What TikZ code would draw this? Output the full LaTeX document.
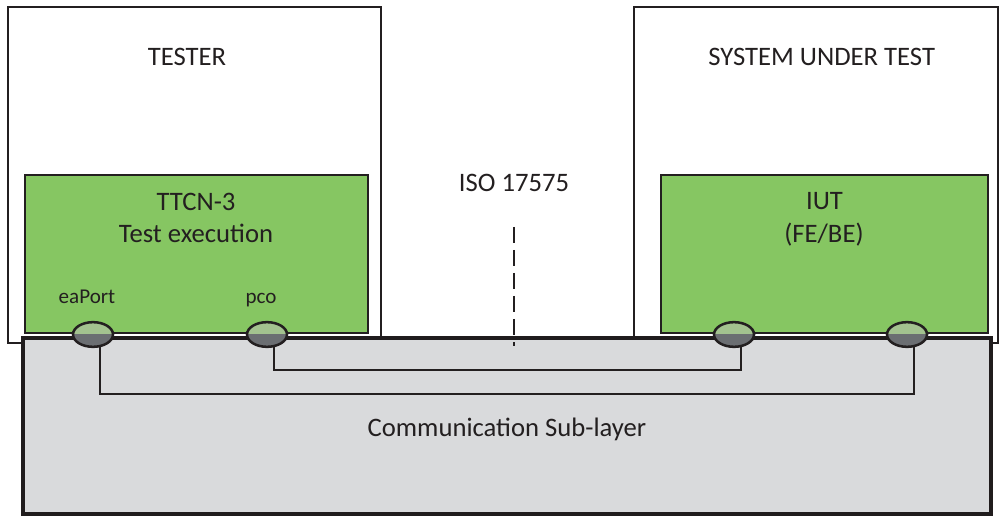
\documentclass[tikz,border=0pt]{standalone}
\usepackage{fontspec}
\setmainfont{Carlito}
\usetikzlibrary{shapes.geometric,calc}
\definecolor{boxgreen}{HTML}{86C662}
\definecolor{layergray}{HTML}{D9DADC}
\definecolor{portlight}{HTML}{A3C28F}
\definecolor{portdark}{HTML}{6B6E72}
\definecolor{ink}{HTML}{231F20}
\begin{document}
\begin{tikzpicture}[x=0.75pt,y=-0.75pt,
  outerbox/.style={draw=ink,line width=1.1pt,fill=white,inner sep=0pt},
  greenbox/.style={draw=ink,line width=1.3pt,fill=boxgreen,inner sep=0pt},
  layerbox/.style={draw=ink!90!black,line width=3pt,fill=layergray,inner sep=0pt},
  bigtext/.style={text=ink,anchor=base,inner sep=0pt,font=\fontsize{20pt}{24pt}\selectfont},
  smalltext/.style={text=ink,anchor=base,inner sep=0pt,font=\fontsize{15.8pt}{18pt}\selectfont},
  port/.style={ellipse,draw=ink,line width=1.9pt,inner sep=0pt,
    minimum width=30pt,minimum height=18.5pt,
    path picture={
      \fill[portlight] (path picture bounding box.north west) rectangle (path picture bounding box.east);
      \fill[portdark] (path picture bounding box.west) rectangle (path picture bounding box.south east);
    }},
  wire/.style={draw=ink,line width=1.4pt},
  boundary/.style={draw=ink,line width=1.5pt,dash pattern=on 12pt off 5.25pt}]
\useasboundingbox (0,0) rectangle (1000,516);
% outer boxes
\node[outerbox,minimum width=279.75pt,minimum height=252pt] (tester) at (194.5,175) {};
\node[outerbox,minimum width=273pt,minimum height=252pt] (sut) at (816,175) {};
% green boxes
\node[greenbox,minimum width=257.25pt,minimum height=118.5pt] (ttcn) at (196.5,254) {};
\node[greenbox,minimum width=245.25pt,minimum height=118.5pt] (iut) at (824.5,254) {};
% communication layer
\node[layerbox,minimum width=726pt,minimum height=132pt] (comm) at (507,426) {};
% labels
\node[bigtext] (testerlbl) at (187,66) {TESTER};
\node[bigtext] (sutlbl) at (821.7,66) {SYSTEM UNDER TEST};
\node[bigtext] (ttcnlbl) at (196,211) {TTCN-3};
\node[bigtext] (execlbl) at (196,242.5) {Test execution};
\node[bigtext] (iutlbl) at (824.5,210) {IUT};
\node[bigtext] (febelbl) at (824,243) {(FE/BE)};
\node[bigtext] (isolbl) at (514,192) {ISO 17575};
\node[bigtext] (commlbl) at (507,437) {Communication Sub-layer};
\node[smalltext] (ealbl) at (87,304) {eaPort};
\node[smalltext] (pcolbl) at (261,304) {pco};
% dashed boundary
\coordinate (isotop) at (513.7,227);
\coordinate (isobot) at (513.7,346);
\draw[boundary] (isotop) -- (isobot);
% port coordinates
\coordinate (eaC) at (93,334.5);
\coordinate (pcoC) at (267,334.5);
\coordinate (iutaC) at (734,334.5);
\coordinate (iutbC) at (907,334.5);
\coordinate (bendEa) at (100,394);
\coordinate (bendPco) at (274,370);
% wires
\draw[wire] ($(eaC)+(7,0)$) -- (bendEa) -| ($(iutbC)+(7,0)$);
\draw[wire] ($(pcoC)+(7,0)$) -- (bendPco) -| ($(iutaC)+(7,0)$);
% ports
\node[port] (ea) at (eaC) {};
\node[port] (pco) at (pcoC) {};
\node[port] (iuta) at (iutaC) {};
\node[port] (iutb) at (iutbC) {};
\end{tikzpicture}
\end{document}
